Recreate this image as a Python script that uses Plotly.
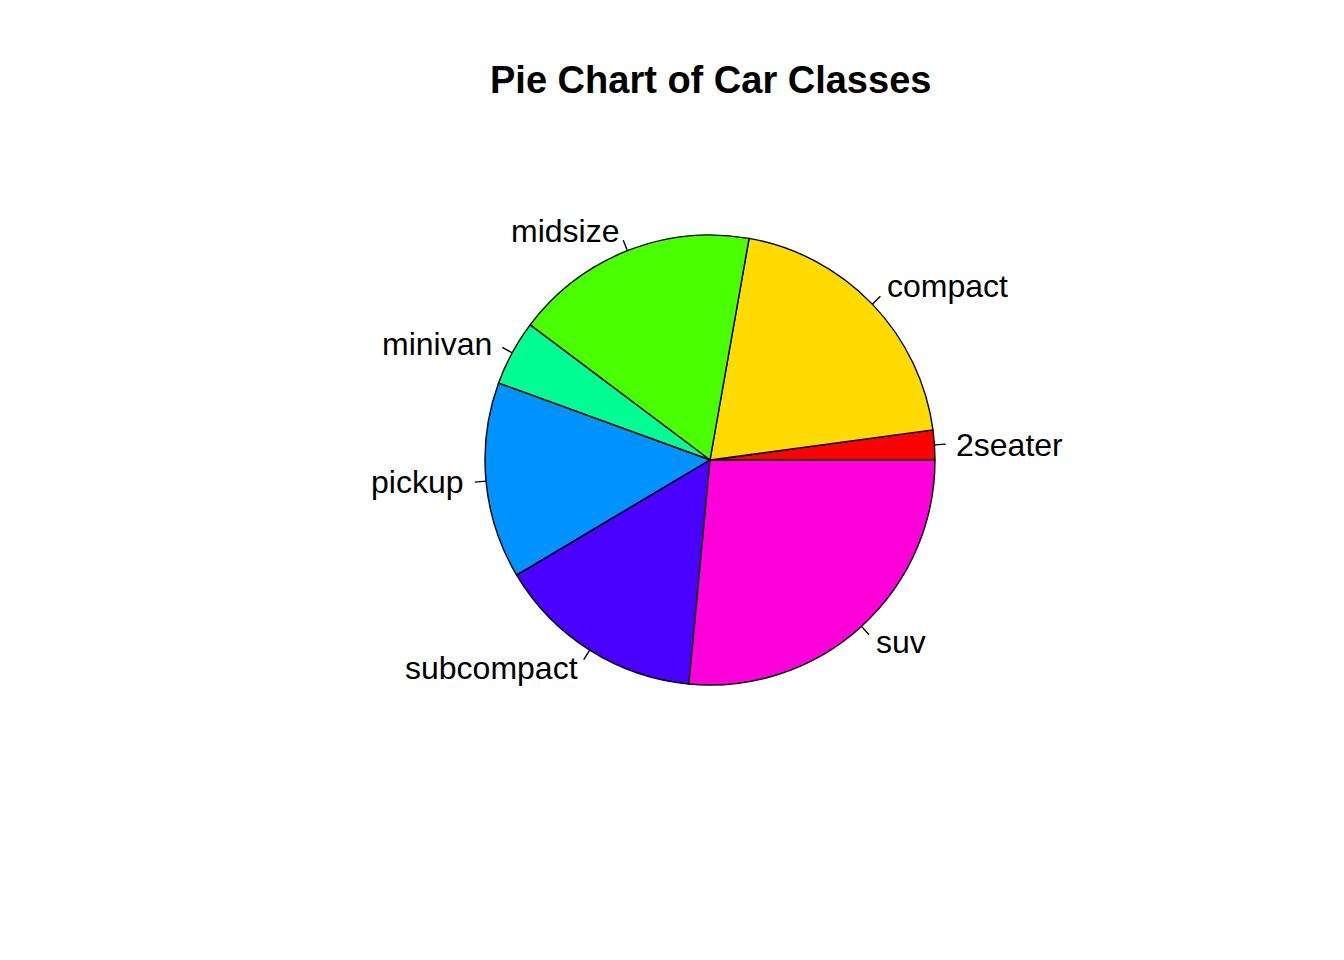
import numpy as np
import plotly.graph_objects as go

categories = ["2seater", "compact", "midsize", "minivan", "pickup", "subcompact", "suv"]
counts = [5, 47, 41, 11, 33, 35, 62]
colors = ["#FF0000", "#FFDB00", "#49FF00", "#00FF92", "#0092FF", "#4900FF", "#FF00DB"]
title = "Pie Chart of Car Classes"

W, H = 1344, 960
cx, cy, R = 710, 460, 225  # pixel geometry of the pie
FONT = "Liberation Sans, Arial, sans-serif"
FS = 32


def ink_center_offset(s):
    """Distance (em) from the ink-box centre down to the baseline, Arial-like metrics."""
    tall = set("0123456789ABCDEFGHIJKLMNOPQRSTUVWXYZbdfhklij")
    desc = set("gjpqy")
    asc = 0.519
    for ch in s:
        if ch in tall:
            asc = max(asc, 0.716)
        elif ch == "t":
            asc = max(asc, 0.66)
    dsc = 0.21 if any(ch in desc for ch in s) else 0.0
    return (asc - dsc) / 2


vals = np.array(counts, dtype=float)
first_share = vals[0] / vals.sum()

fig = go.Figure()
fig.add_trace(go.Pie(
    labels=categories, values=counts, sort=False,
    direction="counterclockwise", rotation=90 - 360 * first_share,
    marker=dict(colors=colors, line=dict(color="black", width=1.4)),
    textinfo="none", hoverinfo="label+value", showlegend=False,
    domain=dict(x=[(cx - R) / W, (cx + R) / W], y=[(H - cy - R) / H, (H - cy + R) / H]),
))

cum = np.concatenate([[0], np.cumsum(vals)]) / vals.sum()
mids = 2 * np.pi * (cum[:-1] + cum[1:]) / 2

shapes, annotations = [], []
for lab, a in zip(categories, mids):
    c, s = np.cos(a), np.sin(a)
    x0, y0 = cx + R * c, cy - R * s
    x1, y1 = cx + 1.05 * R * c, cy - 1.05 * R * s
    shapes.append(dict(type="line", xref="paper", yref="paper",
                       x0=x0 / W, y0=(H - y0) / H, x1=x1 / W, y1=(H - y1) / H,
                       line=dict(color="black", width=1.4)))
    lx, ly = cx + 1.1 * R * c, cy - 1.1 * R * s
    baseline = ly + ink_center_offset(lab) * 31.5 + 1.5
    ycenter = baseline - 0.3465 * FS
    annotations.append(dict(x=lx / W, y=(H - ycenter) / H, xref="paper", yref="paper",
                            text=lab, showarrow=False,
                            xanchor="left" if c > 0 else "right", yanchor="middle",
                            xshift=-3 if c > 0 else 2,
                            font=dict(family=FONT, size=FS, color="black")))

annotations.append(dict(x=710 / W, y=(H - 80) / H, xref="paper", yref="paper",
                        text="<b>" + title + "</b>", showarrow=False,
                        xanchor="center", yanchor="middle",
                        font=dict(family=FONT, size=38, color="black")))

fig.update_layout(width=W, height=H, margin=dict(l=0, r=0, t=0, b=0),
                  paper_bgcolor="white", plot_bgcolor="white",
                  shapes=shapes, annotations=annotations)
fig.write_html("out.html")
